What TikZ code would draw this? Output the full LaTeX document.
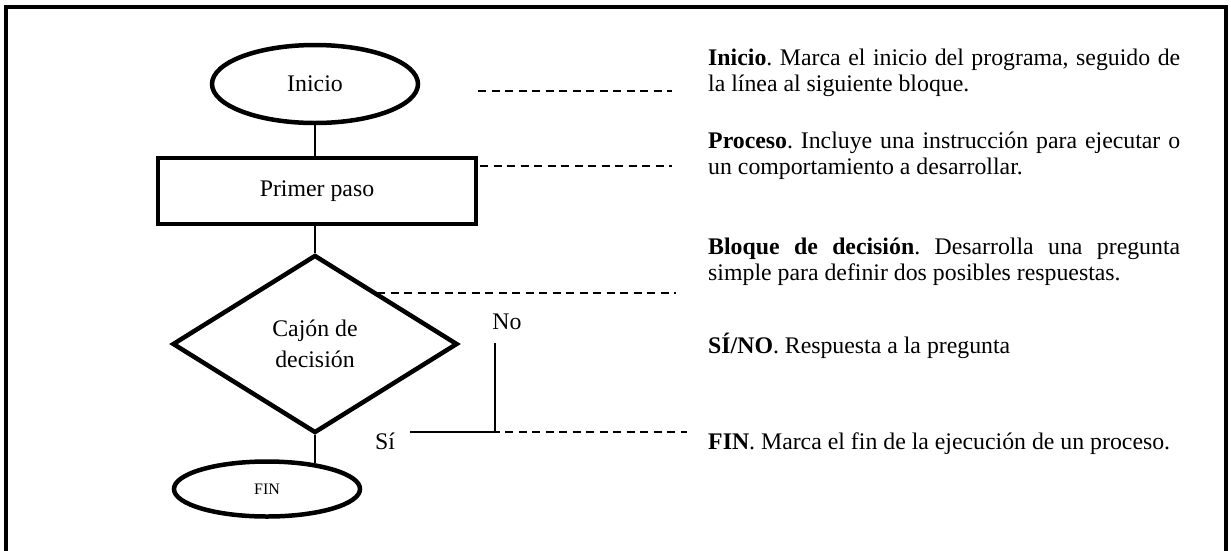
\documentclass[tikz,border=0pt]{standalone}
\usepackage{fontspec}
\setmainfont{Liberation Serif}
\usetikzlibrary{shapes.geometric,calc}
\frenchspacing
\begin{document}
\begin{tikzpicture}[x=1pt,y=-1pt,
  every node/.style={font=\fontsize{23.8}{26}\selectfont, inner sep=0pt},
  shapeborder/.style={draw, line width=4.5pt},
  conn/.style={line width=1.3pt},
  guide/.style={line width=1.3pt, dash pattern=on 8pt off 5.5pt},
  desc/.style={anchor=base west, text width=472pt, align=justify}
]
\useasboundingbox (0,0) rectangle (1231,550);
\begin{scope}
\clip (0,0) rectangle (1231,550);
\draw[line width=4pt] (6,7) rectangle (1226,580);
\end{scope}

% flowchart
\node[ellipse, shapeborder, minimum width=206pt, minimum height=78pt] (inicio) at (315,84) {Inicio};
\node[rectangle, shapeborder, minimum width=318pt, minimum height=66pt] (paso) at (317,191) {Primer paso};
\node[diamond, shapeborder, minimum width=285pt, minimum height=178pt, align=center,
      font=\fontsize{23.8}{31}\selectfont] (dec) at (315,344) {Caj\'on de\\decisi\'on};
\node[ellipse, shapeborder, minimum width=186pt, minimum height=55pt,
      font=\fontsize{16}{18}\selectfont] (fin) at (267,489) {FIN};

\draw[conn] (inicio.south) -- (inicio.south |- paso.north);
\draw[conn] (dec.north |- paso.south) -- (dec.north);
\draw[conn] (dec.south) -- ($(dec.south |- fin.north)+(0,4)$);

% No / Si branch
\node (no) at (507,322) {No};
\node (si) at (385,441) {S\'i};
\coordinate (ntop) at (495,343);
\coordinate (corner) at (495,432);
\coordinate (sileft) at (410,432);
\draw[conn] (ntop) -- (corner) -- (sileft);

% dashed guides
\coordinate (g1a) at (478,91);  \coordinate (g1b) at (672,91);
\coordinate (g2a) at (480,166); \coordinate (g2b) at (672,166);
\coordinate (g3a) at (377,293); \coordinate (g3b) at (676,293);
\coordinate (g4a) at (478,432); \coordinate (g4b) at (687,432);
\draw[guide] (g1a) -- (g1b);
\draw[guide] (g2a) -- (g2b);
\draw[guide] (g3a) -- (g3b);
\draw[guide] (g4a) -- (g4b);

% descriptions
\node[desc] (t1) at (708,65.5) {\textbf{Inicio}. Marca el inicio del programa, seguido de\linebreak la l\'inea al siguiente bloque.};
\node[desc] (t2) at (708,148.5) {\textbf{Proceso}. Incluye una instrucci\'on para ejecutar o\linebreak un comportamiento a desarrollar.};
\node[desc] (t3) at (708,254.5) {\textbf{Bloque de decisi\'on}. Desarrolla una pregunta\linebreak simple para definir dos posibles respuestas.};
\node[desc] (t4) at (708,353.5) {\textbf{S\'I/NO}. Respuesta a la pregunta};
\node[desc] (t5) at (708,449) {\textbf{FIN}. Marca el fin de la ejecuci\'on de un proceso.};
\end{tikzpicture}
\end{document}
